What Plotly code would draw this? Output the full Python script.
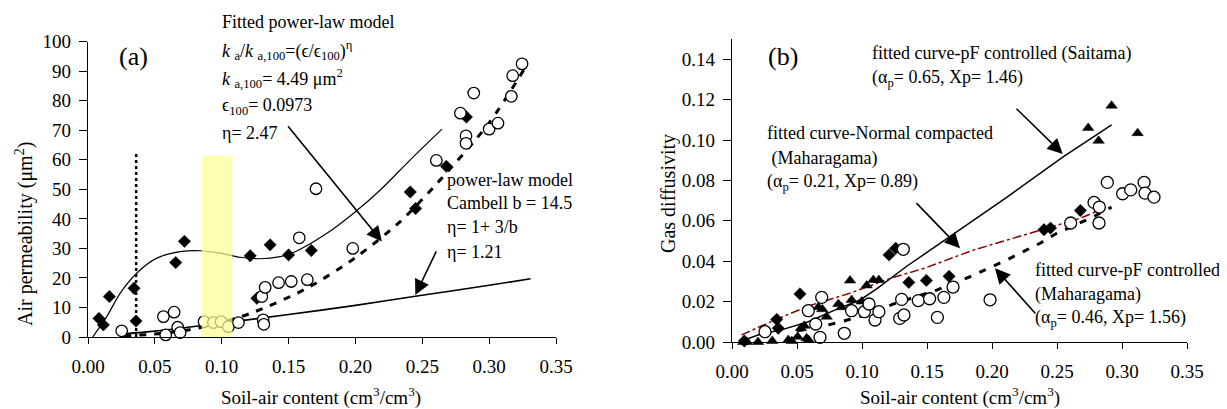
import plotly.graph_objects as go

W, H = 1227, 409
OFF = 8  # page body margin in the browser
SERIF = "Liberation Serif"

# ---------------- tick labels ----------------
x_tick_vals = [0.00, 0.05, 0.10, 0.15, 0.20, 0.25, 0.30, 0.35]
x_tick_text = ["0.00", "0.05", "0.10", "0.15", "0.20", "0.25", "0.30", "0.35"]
a_y_tick_vals = [0, 10, 20, 30, 40, 50, 60, 70, 80, 90, 100]
a_y_tick_text = ["0", "10", "20", "30", "40", "50", "60", "70", "80", "90", "100"]
b_y_tick_vals = [0.00, 0.02, 0.04, 0.06, 0.08, 0.10, 0.12, 0.14]
b_y_tick_text = ["0.00", "0.02", "0.04", "0.06", "0.08", "0.10", "0.12", "0.14"]

# ---------------- panel (a): air permeability ----------------
a_dia_x = [0.0082, 0.0115, 0.016, 0.0344, 0.0359, 0.0656, 0.0721, 0.1213, 0.1263,
           0.1362, 0.150, 0.167, 0.241, 0.245, 0.268, 0.283]
a_dia_y = [6.3, 4.1, 13.7, 16.5, 5.4, 25.2, 32.4, 27.5, 13.1,
           31.2, 27.8, 29.3, 49.1, 43.5, 57.8, 74.5]

a_circ_x = [0.0252, 0.0564, 0.0581, 0.0644, 0.0671, 0.0689, 0.0868, 0.0938, 0.0995,
            0.105, 0.1125, 0.130, 0.1325, 0.131, 0.1315, 0.1425, 0.152, 0.164, 0.158,
            0.1705, 0.198, 0.2605, 0.2785, 0.2885, 0.2827, 0.2827, 0.300, 0.3066,
            0.3166, 0.3176, 0.3246]
a_circ_y = [2.1, 6.9, 0.7, 8.4, 3.3, 1.5, 5.2, 4.9, 5.2,
            3.5, 4.9, 13.7, 16.8, 5.8, 4.3, 18.4, 18.8, 19.4, 33.6,
            50.2, 30.0, 59.8, 75.8, 82.6, 68.1, 65.6, 70.4, 72.4,
            81.5, 88.5, 92.5]

# thin fitted curve through the diamonds
a_poly_x = [0.0035, 0.014, 0.024, 0.0364, 0.0514, 0.0689, 0.0838, 0.0988, 0.1138,
            0.1287, 0.1437, 0.1537, 0.1787, 0.1986, 0.2186, 0.241, 0.2647]
a_poly_y = [0.0, 6.9, 14.8, 21.6, 26.7, 28.9, 29.2, 28.4, 27.0,
            26.5, 27.2, 28.6, 35.1, 41.9, 49.8, 60.0, 70.4]

# fitted power-law model (thick dashed)
a_model_x = [0.027, 0.05, 0.075, 0.10, 0.125, 0.1637, 0.201, 0.2335, 0.261, 0.30, 0.328]
a_model_y = [0.4, 1.0, 2.4, 4.9, 8.6, 16.5, 27.2, 39.1, 52.0, 72.5, 92.0]

# Campbell power-law model (solid)
a_camp_x = [0.027, 0.05, 0.10, 0.15, 0.20, 0.2448, 0.30, 0.331]
a_camp_y = [1.1, 2.0, 4.7, 7.6, 10.7, 13.8, 17.5, 19.7]

a_band_x = [0.085, 0.108]
a_band_top = 61.5
a_vline_x = 0.036
a_vline_top = 62

# ---------------- panel (b): gas diffusivity ----------------
b_tri_x = [0.0087, 0.0113, 0.020, 0.031, 0.0433, 0.046, 0.0505, 0.053, 0.0556, 0.0574,
           0.059, 0.0664, 0.0695, 0.0728, 0.0818, 0.0844, 0.0908, 0.092, 0.0997, 0.1036,
           0.1087, 0.113, 0.274, 0.282, 0.292, 0.312]
b_tri_y = [0.0, 0.0, 0.0, 0.0005, 0.001, 0.0005, 0.0026, 0.0068, 0.008, 0.0018,
           0.001, 0.0172, 0.0162, 0.0125, 0.0188, 0.0172, 0.0304, 0.0208, 0.020, 0.028,
           0.0307, 0.0307, 0.106, 0.0996, 0.117, 0.1034]

b_dia_x = [0.0095, 0.0344, 0.0356, 0.0523, 0.1208, 0.1259, 0.136, 0.1495, 0.167,
           0.240, 0.245, 0.268]
b_dia_y = [0.0005, 0.0112, 0.0068, 0.0238, 0.0431, 0.0464, 0.0295, 0.0305, 0.0325,
           0.0556, 0.0564, 0.0651]

b_circ_x = [0.0254, 0.0587, 0.0644, 0.0677, 0.069, 0.0864, 0.092, 0.1018, 0.1054, 0.110,
            0.113, 0.129, 0.1305, 0.1323, 0.1318, 0.1433, 0.152, 0.158, 0.163, 0.170,
            0.1985, 0.2605, 0.2785, 0.2826, 0.2823, 0.2887, 0.3005, 0.3067, 0.3170,
            0.3177, 0.3246]
b_circ_y = [0.0051, 0.0155, 0.0089, 0.0023, 0.0221, 0.0043, 0.0155, 0.015, 0.0188, 0.0109,
            0.015, 0.0117, 0.0211, 0.0134, 0.0459, 0.0205, 0.0214, 0.0122, 0.0221, 0.0272,
            0.0209, 0.0589, 0.0691, 0.0668, 0.0589, 0.079, 0.0734, 0.0753, 0.079,
            0.0737, 0.0717]

b_sait_x = [0.006, 0.020, 0.038, 0.0587, 0.079, 0.0985, 0.111, 0.125, 0.1344, 0.148,
            0.16, 0.1774, 0.2113, 0.2544, 0.292]
b_sait_y = [0.0002, 0.0035, 0.006, 0.010, 0.0158, 0.0208, 0.0262, 0.033, 0.0375, 0.0435,
            0.0489, 0.0567, 0.0716, 0.0915, 0.1075]

b_norm_x = [0.0074, 0.033, 0.0587, 0.09, 0.123, 0.148, 0.1856, 0.237, 0.2677, 0.280]
b_norm_y = [0.0035, 0.0109, 0.0178, 0.0240, 0.0318, 0.0365, 0.0455, 0.0554, 0.0612, 0.0645]

b_maha_x = [0.05, 0.07, 0.085, 0.10, 0.125, 0.1575, 0.183, 0.197, 0.2113, 0.237,
            0.2498, 0.278, 0.292]
b_maha_y = [0.0055, 0.0078, 0.0102, 0.013, 0.019, 0.0257, 0.0323, 0.0365, 0.0406, 0.0489,
            0.0538, 0.062, 0.0668]


def pxx(v):
    return (v - OFF) / W


def pxy(v):
    return 1 - (v - OFF) / H


fig = go.Figure()


def line(x, y, ax, width=1.5, dash="solid", color="black", shape="linear"):
    fig.add_trace(go.Scatter(
        x=x, y=y, mode="lines", xaxis="x" + ax, yaxis="y" + ax,
        line=dict(color=color, width=width, dash=dash, shape=shape, smoothing=0.8),
        cliponaxis=False, showlegend=False, hoverinfo="skip"))


def pts(x, y, ax, symbol, size, fill, lw=1.3):
    fig.add_trace(go.Scatter(
        x=x, y=y, mode="markers", xaxis="x" + ax, yaxis="y" + ax,
        marker=dict(symbol=symbol, size=size, color=fill,
                    line=dict(color="black", width=lw)),
        cliponaxis=False, showlegend=False))


# panel (a)
line(a_poly_x, a_poly_y, "", width=1.2, shape="spline")
line(a_camp_x, a_camp_y, "", width=1.6, shape="spline")
line(a_model_x, a_model_y, "", width=3, dash="7px,8px", shape="spline")
pts(a_dia_x, a_dia_y, "", "diamond", 9.5, "black", lw=0.5)
pts(a_circ_x, a_circ_y, "", "circle", 11.5, "white")

# panel (b)
line(b_sait_x, b_sait_y, "2", width=1.5)
line(b_norm_x, b_norm_y, "2", width=1.5, dash="dashdot", color="#8B0000")
line(b_maha_x, b_maha_y, "2", width=3, dash="7px,9px")
pts(b_tri_x, b_tri_y, "2", "triangle-up", 10, "black", lw=0.5)
pts(b_dia_x, b_dia_y, "2", "diamond", 9.5, "black", lw=0.5)
pts(b_circ_x, b_circ_y, "2", "circle", 12, "white")

axis_common = dict(showline=True, linecolor="black", linewidth=1.2, ticks="outside",
                   tickwidth=1.2, tickcolor="black", showgrid=False, zeroline=False,
                   automargin=False,
                   tickfont=dict(family=SERIF, size=19, color="black"), fixedrange=True)

fig.update_layout(
    width=W, height=H, autosize=False,
    margin=dict(l=0, r=0, t=0, b=0, pad=0, autoexpand=False),
    paper_bgcolor="white", plot_bgcolor="white", showlegend=False,
    font=dict(family=SERIF, size=18, color="black"),
    xaxis=dict(domain=[pxx(88), pxx(556)], anchor="y", range=[0, 0.35],
               tickvals=x_tick_vals, ticktext=x_tick_text, ticklen=6,
               ticklabelstandoff=6, **axis_common),
    yaxis=dict(domain=[pxy(337), pxy(41.7)], anchor="x", range=[0, 100],
               tickvals=a_y_tick_vals, ticktext=a_y_tick_text, ticklen=8,
               ticklabelstandoff=4, **axis_common),
    xaxis2=dict(domain=[pxx(732), pxx(1187)], anchor="y2", range=[0, 0.35],
                tickvals=x_tick_vals, ticktext=x_tick_text, ticklen=6,
                ticklabelstandoff=6, **axis_common),
    yaxis2=dict(domain=[pxy(342), pxy(39)], anchor="x2", range=[0, 0.15],
                tickvals=b_y_tick_vals, ticktext=b_y_tick_text, ticklen=8,
                ticklabelstandoff=4, **axis_common),
)

# yellow highlighted band and dotted vertical line in (a)
fig.add_shape(type="rect", xref="x", yref="y", x0=a_band_x[0], x1=a_band_x[1],
              y0=0, y1=a_band_top, fillcolor="rgba(255,255,150,0.72)",
              line=dict(width=0), layer="above")
fig.add_shape(type="line", xref="x", yref="y", x0=a_vline_x, x1=a_vline_x,
              y0=0, y1=a_vline_top, line=dict(color="black", width=2.5, dash="dot"))

anns = []


def text(px_, py_, s, size=18, xanchor="left", angle=0):
    anns.append(dict(x=pxx(px_), y=pxy(py_), xref="paper", yref="paper", text=s,
                     showarrow=False, xanchor=xanchor, yanchor="middle",
                     textangle=angle, font=dict(family=SERIF, size=size, color="black")))


def arrow(ax, tip, tail):
    anns.append(dict(x=tip[0], y=tip[1], ax=tail[0], ay=tail[1],
                     xref="x" + ax, yref="y" + ax, axref="x" + ax, ayref="y" + ax,
                     text="", showarrow=True, arrowhead=2, arrowsize=1.9,
                     arrowwidth=1.6, arrowcolor="black"))


# panel (a) texts
text(133, 57, "(a)", size=26, xanchor="center")
text(220, 22, "Fitted power-law model")
text(220, 51, "<i>k</i> <sub>a</sub>/<i>k</i> <sub>a,100</sub>=(ϵ/ϵ<sub>100</sub>)<sup>η</sup>")
text(220, 79, "<i>k</i> <sub>a,100</sub>= 4.49 μm<sup>2</sup>")
text(220, 106, "ϵ<sub>100</sub>= 0.0973")
text(220, 133, "η= 2.47")
text(445, 180, "power-law model")
text(445, 203, "Cambell b = 14.5")
text(445, 227, "η= 1+ 3/b")
text(445, 252, "η= 1.21")
text(321, 396, "Soil-air content (cm<sup>3</sup>/cm<sup>3</sup>)", size=19, xanchor="center")
text(24, 234, "Air permeability (μm<sup>2</sup>)", size=20, xanchor="center", angle=-90)
arrow("", (0.2198, 32.3), (0.1487, 71.9))
arrow("", (0.2448, 14.2), (0.261, 29.5))

# panel (b) texts
text(783, 57, "(b)", size=26, xanchor="center")
text(870, 53, "fitted curve-pF controlled (Saitama)")
text(870, 78, "(α<sub>p</sub>= 0.65, Xp= 1.46)")
text(765, 133, "fitted curve-Normal compacted")
text(765, 158, " (Maharagama)")
text(765, 183, "(α<sub>p</sub>= 0.21, Xp= 0.89)")
text(1033, 270, "fitted curve-pF controlled")
text(1033, 294, "(Maharagama)")
text(1033, 318, "(α<sub>p</sub>= 0.46, Xp= 1.56)")
text(960, 396, "Soil-air content (cm<sup>3</sup>/cm<sup>3</sup>)", size=19, xanchor="center")
text(668, 194, "Gas diffusivity", size=20, xanchor="center", angle=-90)
arrow("2", (0.2544, 0.0931), (0.2177, 0.1162))
arrow("2", (0.1754, 0.0464), (0.1408, 0.0695))
arrow("2", (0.2023, 0.0365), (0.2344, 0.0134))

fig.update_layout(annotations=anns)

fig.write_html("out.html")
